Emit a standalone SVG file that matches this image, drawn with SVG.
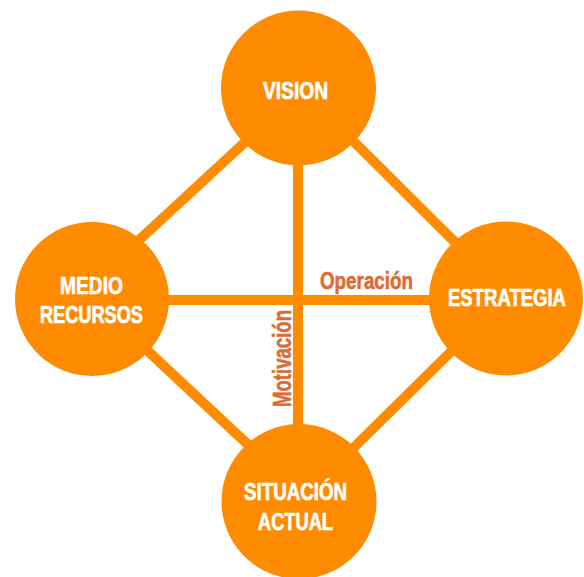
<svg xmlns="http://www.w3.org/2000/svg" width="584" height="577" viewBox="0 0 584 577">
  <style>
    .link { stroke: #FF8C00; stroke-width: 10; fill: none; }
    .node circle { fill: #FF8C00; }
    .node text { fill: #FFFFFF; stroke: #FFFFFF; stroke-width: 0.7; font-family: "Liberation Sans Narrow", "Liberation Sans", Arial, sans-serif; font-weight: bold; font-size: 24px; }
    .axis { fill: #DC6C36; stroke: #DC6C36; stroke-width: 0.6; font-family: "Liberation Sans Narrow", "Liberation Sans", Arial, sans-serif; font-weight: bold; }
  </style>
  <rect width="584" height="577" fill="#FFFFFF"/>

  <!-- connectors -->
  <g id="connectors">
    <line class="link" x1="120" y1="257.7" x2="270" y2="119"/>
    <line class="link" x1="330" y1="118" x2="480" y2="267"/>
    <line class="link" x1="120" y1="325" x2="272" y2="467"/>
    <line class="link" x1="478" y1="325" x2="327" y2="474"/>
    <line class="link" x1="298" y1="150" x2="298" y2="440"/>
    <line class="link" x1="150" y1="300" x2="450" y2="300"/>
  </g>

  <!-- axis labels -->
  <text class="axis" x="320" y="289" font-size="23" textLength="93" lengthAdjust="spacingAndGlyphs">Operación</text>
  <text class="axis" transform="translate(291 407) rotate(-90)" x="0" y="0" font-size="26" textLength="97" lengthAdjust="spacingAndGlyphs">Motivación</text>

  <!-- nodes -->
  <g id="vision" class="node">
    <circle cx="298.5" cy="88" r="77.5"/>
    <text x="263" y="99" textLength="65" lengthAdjust="spacingAndGlyphs">VISION</text>
  </g>
  <g id="medio-recursos" class="node">
    <circle cx="92" cy="299" r="77"/>
    <text x="60" y="294" textLength="63" lengthAdjust="spacingAndGlyphs">MEDIO</text>
    <text x="40" y="323" textLength="103" lengthAdjust="spacingAndGlyphs">RECURSOS</text>
  </g>
  <g id="estrategia" class="node">
    <circle cx="506" cy="298.5" r="77"/>
    <text x="448" y="306" textLength="118" lengthAdjust="spacingAndGlyphs">ESTRATEGIA</text>
  </g>
  <g id="situacion-actual" class="node">
    <circle cx="299" cy="501.5" r="77.5"/>
    <text x="244" y="500" textLength="103" lengthAdjust="spacingAndGlyphs">SITUACIÓN</text>
    <text x="258" y="530" textLength="75" lengthAdjust="spacingAndGlyphs">ACTUAL</text>
  </g>
</svg>
